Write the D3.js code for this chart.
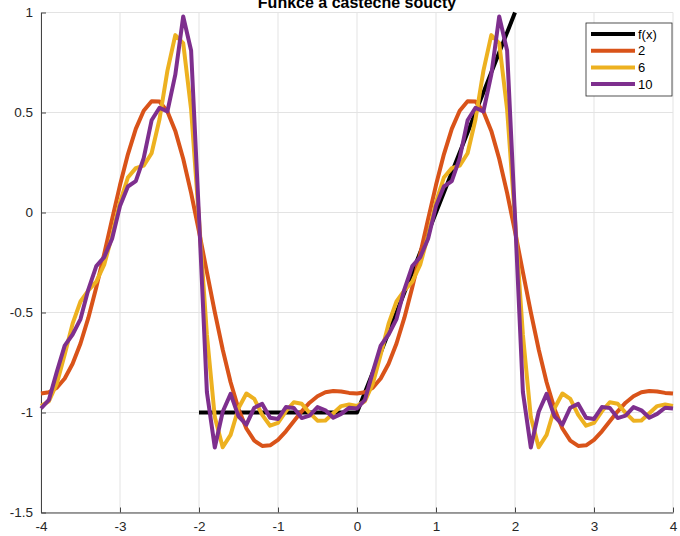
<!DOCTYPE html>
<html>
<head>
<meta charset="utf-8">
<script src="https://cdn.jsdelivr.net/npm/d3@7"></script>
<style>
    body { margin: 0; background: #fff; }
    text { font-family: "Liberation Sans", Arial, sans-serif; }
</style>
</head>
<body>
<div id="chart"></div>
<script>
// ########################################################## Data ########################################################
const xs = [-4,-3.9,-3.8,-3.7,-3.6,-3.5,-3.4,-3.3,-3.2,-3.1,-3,-2.9,-2.8,-2.7,-2.6,-2.5,-2.4,-2.3,-2.2,-2.1,
    -2,-1.9,-1.8,-1.7,-1.6,-1.5,-1.4,-1.3,-1.2,-1.1,-1,-0.9,-0.8,-0.7,-0.6,-0.5,-0.4,-0.3,-0.2,-0.1,
    0,0.1,0.2,0.3,0.4,0.5,0.6,0.7,0.8,0.9,1,1.1,1.2,1.3,1.4,1.5,1.6,1.7,1.8,1.9,
    2,2.1,2.2,2.3,2.4,2.5,2.6,2.7,2.8,2.9,3,3.1,3.2,3.3,3.4,3.5,3.6,3.7,3.8,3.9,4];

// partial sum with 2 terms
const sum2 = [-0.905,-0.899,-0.876,-0.830,-0.756,-0.655,-0.526,-0.374,-0.207,-0.033,0.137,0.291,0.418,0.509,0.556,0.555,0.505,0.408,0.269,0.098,
    -0.095,-0.298,-0.498,-0.685,-0.849,-0.982,-1.080,-1.141,-1.167,-1.164,-1.137,-1.094,-1.044,-0.994,-0.951,-0.919,-0.899,-0.893,-0.895,-0.902,
    -0.905,-0.899,-0.876,-0.830,-0.756,-0.655,-0.526,-0.374,-0.207,-0.033,0.137,0.291,0.418,0.509,0.556,0.555,0.505,0.408,0.269,0.098,
    -0.095,-0.298,-0.498,-0.685,-0.849,-0.982,-1.080,-1.141,-1.167,-1.164,-1.137,-1.094,-1.044,-0.994,-0.951,-0.919,-0.899,-0.893,-0.895,-0.902,-0.905];

// partial sum with 6 terms
const sum6 = [-0.967,-0.944,-0.856,-0.710,-0.556,-0.445,-0.389,-0.346,-0.261,-0.115,0.052,0.175,0.222,0.234,0.296,0.466,0.708,0.887,0.847,0.516,
    -0.034,-0.612,-1.023,-1.174,-1.112,-0.979,-0.905,-0.932,-1.012,-1.066,-1.052,-0.994,-0.949,-0.956,-1.002,-1.041,-1.040,-1.004,-0.968,-0.960,
    -0.967,-0.944,-0.856,-0.710,-0.556,-0.445,-0.389,-0.346,-0.261,-0.115,0.052,0.175,0.222,0.234,0.296,0.466,0.708,0.887,0.847,0.516,
    -0.034,-0.612,-1.023,-1.174,-1.112,-0.979,-0.905,-0.932,-1.012,-1.066,-1.052,-0.994,-0.949,-0.956,-1.002,-1.041,-1.040,-1.004,-0.968,-0.960,-0.967];

// partial sum with 10 terms
const sum10 = [-0.980,-0.937,-0.797,-0.666,-0.610,-0.533,-0.384,-0.268,-0.223,-0.131,0.032,0.130,0.157,0.272,0.461,0.524,0.505,0.689,0.980,0.810,
    -0.020,-0.898,-1.175,-0.996,-0.907,-1.019,-1.061,-0.976,-0.957,-1.026,-1.032,-0.973,-0.977,-1.028,-1.016,-0.973,-0.989,-1.026,-1.007,-0.976,
    -0.980,-0.937,-0.797,-0.666,-0.610,-0.533,-0.384,-0.268,-0.223,-0.131,0.032,0.130,0.157,0.272,0.461,0.524,0.505,0.689,0.980,0.810,
    -0.020,-0.898,-1.175,-0.996,-0.907,-1.019,-1.061,-0.976,-0.957,-1.026,-1.032,-0.973,-0.977,-1.028,-1.016,-0.973,-0.989,-1.026,-1.007,-0.976,-0.980];

// the function itself, only on one period
const fX = [-2, 0, 2];
const fY = [-1, -1, 1];

const seriesNames = ['f(x)', '2', '6', '10'];
const xTicks = [-4, -3, -2, -1, 0, 1, 2, 3, 4];
const yTicks = [-1.5, -1, -0.5, 0, 0.5, 1];
const title = 'Funkce a částečné součty';
// ########################################################## Data ########################################################

const colors = d3.scaleOrdinal()
    .domain(seriesNames)
    .range(['#000000', '#D95319', '#EDB120', '#7E2F8E']);

const width = 680, height = 536;
const margin = { top: 12.5, right: 7, bottom: 23.5, left: 41 };

const svg = d3.select('#chart').append('svg')
    .attr('width', width)
    .attr('height', height);

const xScale = d3.scaleLinear()
    .domain([-4, 4])
    .range([margin.left, width - margin.right]);

const yScale = d3.scaleLinear()
    .domain([-1.5, 1])
    .range([height - margin.bottom, margin.top]);

// grid
svg.append('g')
    .selectAll('line')
    .data(xTicks)
    .join('line')
    .attr('x1', d => xScale(d)).attr('x2', d => xScale(d))
    .attr('y1', yScale(-1.5)).attr('y2', yScale(1))
    .attr('stroke', '#e3e3e3');

svg.append('g')
    .selectAll('line')
    .data(yTicks)
    .join('line')
    .attr('x1', xScale(-4)).attr('x2', xScale(4))
    .attr('y1', d => yScale(d)).attr('y2', d => yScale(d))
    .attr('stroke', '#e3e3e3');

// axes (MATLAB style: inward ticks, no box)
const fmt = d => String(d);

const xAxis = svg.append('g')
    .attr('transform', `translate(0,${yScale(-1.5)})`)
    .call(d3.axisBottom(xScale).tickValues(xTicks).tickFormat(fmt).tickSizeInner(-5).tickSizeOuter(0).tickPadding(9));

const yAxis = svg.append('g')
    .attr('transform', `translate(${xScale(-4)},0)`)
    .call(d3.axisLeft(yScale).tickValues(yTicks).tickFormat(fmt).tickSizeInner(-5).tickSizeOuter(0).tickPadding(8));

[xAxis, yAxis].forEach(ax => {
    ax.select('.domain').attr('stroke', '#444');
    ax.selectAll('.tick line').attr('stroke', '#444');
    ax.selectAll('.tick text')
        .attr('fill', '#262626')
        .style('font-size', '13.5px')
        .style('font-family', '"Liberation Sans", Arial, sans-serif');
});

// lines
const line = d3.line()
    .x(d => xScale(d[0]))
    .y(d => yScale(d[1]));

const seriesData = [
    { name: 'f(x)', points: fX.map((x, i) => [x, fY[i]]) },
    { name: '2', points: xs.map((x, i) => [x, sum2[i]]) },
    { name: '6', points: xs.map((x, i) => [x, sum6[i]]) },
    { name: '10', points: xs.map((x, i) => [x, sum10[i]]) }
];

seriesData.forEach(s => {
    svg.append('path')
        .datum(s.points)
        .attr('fill', 'none')
        .attr('stroke', colors(s.name))
        .attr('stroke-width', 4)
        .attr('stroke-linejoin', 'round')
        .attr('d', line);
});

// title (sits at the very top edge, as in the original)
svg.append('text')
    .attr('x', (xScale(-4) + xScale(4)) / 2)
    .attr('y', 8)
    .attr('text-anchor', 'middle')
    .style('font-size', '16px')
    .style('font-weight', 'bold')
    .attr('fill', '#000')
    .text(title);

// legend
const legend = svg.append('g')
    .attr('transform', 'translate(586, 23)');

legend.append('rect')
    .attr('width', 86)
    .attr('height', 73)
    .attr('fill', '#fff')
    .attr('stroke', '#262626')
    .attr('stroke-width', 0.8);

seriesNames.forEach((name, i) => {
    const row = legend.append('g')
        .attr('transform', `translate(0, ${11 + i * 16.7})`);

    row.append('line')
        .attr('x1', 5).attr('x2', 49)
        .attr('stroke', colors(name))
        .attr('stroke-width', 4);

    row.append('text')
        .attr('x', 52)
        .attr('y', 4.5)
        .style('font-size', '13px')
        .attr('fill', '#000')
        .text(name);
});
</script>
</body>
</html>
